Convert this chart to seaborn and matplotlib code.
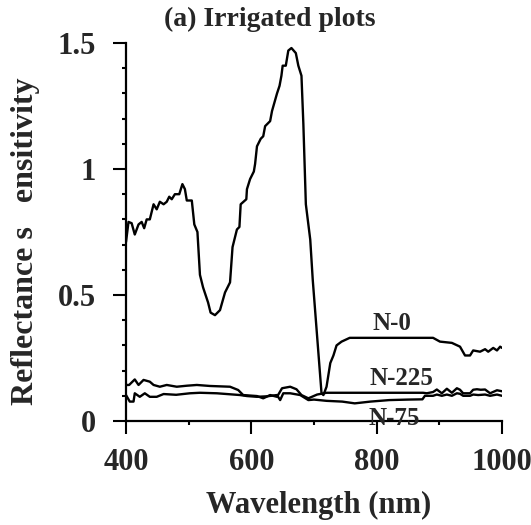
import matplotlib
matplotlib.use("Agg")
import matplotlib.pyplot as plt
import seaborn as sns
import pandas as pd
from matplotlib.ticker import MultipleLocator

# ── Data ───────────────────────────────────────────────────────────────────
n0_wl = [400, 404, 409, 414, 420, 425, 429, 433, 438, 444,
         449, 454, 460, 465, 469, 473, 478, 485, 490, 494,
         497, 505, 509, 514, 518, 523, 531, 535, 542, 550,
         558, 566, 570, 577, 581, 583, 592, 593, 598, 604,
         606, 609, 615, 619, 622, 630, 633, 641, 645, 648,
         650, 655, 659, 664, 671, 675, 680, 683, 687, 694,
         698, 712, 715, 720, 726, 731, 736, 744, 757, 890,
         901, 920, 933, 941, 949, 954, 965, 973, 978, 986,
         992, 997, 1000]
n0_val = [0.71, 0.79, 0.785, 0.74, 0.78, 0.79, 0.765, 0.80, 0.80, 0.86,
          0.84, 0.87, 0.86, 0.87, 0.89, 0.88, 0.90, 0.90, 0.94, 0.92,
          0.875, 0.875, 0.78, 0.75, 0.58, 0.53, 0.47, 0.43, 0.42, 0.44,
          0.51, 0.55, 0.69, 0.76, 0.77, 0.86, 0.88, 0.92, 0.96, 0.99,
          1.02, 1.09, 1.12, 1.13, 1.17, 1.19, 1.23, 1.30, 1.33, 1.37,
          1.41, 1.41, 1.47, 1.48, 1.46, 1.41, 1.37, 1.18, 0.86, 0.72,
          0.56, 0.11, 0.103, 0.136, 0.23, 0.26, 0.30, 0.315, 0.33, 0.33,
          0.315, 0.31, 0.295, 0.26, 0.26, 0.28, 0.275, 0.285, 0.275, 0.29,
          0.28, 0.295, 0.29]

n225_wl = [400, 405, 414, 420, 428, 438, 444, 454, 465, 481,
           497, 513, 534, 566, 579, 587, 609, 619, 630, 641,
           649, 662, 672, 680, 691, 705, 720, 760, 800, 840,
           874, 880, 890, 896, 904, 912, 920, 928, 933, 938,
           949, 954, 960, 966, 973, 981, 992, 1000]
n225_val = [0.143, 0.143, 0.165, 0.143, 0.163, 0.156, 0.143, 0.136, 0.143, 0.136,
            0.14, 0.143, 0.139, 0.136, 0.123, 0.103, 0.099, 0.09, 0.103, 0.096,
            0.13, 0.136, 0.126, 0.103, 0.09, 0.105, 0.112, 0.112, 0.112, 0.112,
            0.112, 0.11, 0.115, 0.125, 0.11, 0.128, 0.112, 0.13, 0.124, 0.11,
            0.11, 0.124, 0.126, 0.124, 0.125, 0.11, 0.122, 0.118]

n75_wl = [400, 406, 412, 414, 422, 430, 438, 449, 460, 480,
          502, 518, 545, 582, 593, 609, 625, 641, 646, 651,
          662, 678, 691, 700, 720, 745, 765, 790, 820, 850,
          873, 877, 890, 896, 904, 912, 920, 928, 933, 938,
          949, 954, 962, 973, 981, 992, 1000]
n75_val = [0.103, 0.077, 0.077, 0.11, 0.096, 0.11, 0.096, 0.096, 0.107, 0.104,
           0.11, 0.112, 0.11, 0.103, 0.099, 0.096, 0.098, 0.103, 0.083, 0.11,
           0.11, 0.103, 0.083, 0.085, 0.08, 0.077, 0.07, 0.077, 0.083, 0.085,
           0.086, 0.1, 0.1, 0.105, 0.1, 0.105, 0.1, 0.11, 0.108, 0.1,
           0.1, 0.105, 0.103, 0.105, 0.1, 0.105, 0.1]

curve_names = ["N-0", "N-225", "N-75"]
label_pos = {"N-0": (825, 0.385), "N-225": (839, 0.17), "N-75": (828, 0.01)}

x_ticks = [400, 600, 800, 1000]
y_ticks = [0, 0.5, 1, 1.5]
y_tick_labels = ["0", "0.5", "1", "1.5"]

df = pd.concat([
    pd.DataFrame({"wl": n0_wl, "val": n0_val, "curve": "N-0"}),
    pd.DataFrame({"wl": n225_wl, "val": n225_val, "curve": "N-225"}),
    pd.DataFrame({"wl": n75_wl, "val": n75_val, "curve": "N-75"}),
])

# ── Plot ───────────────────────────────────────────────────────────────────
sns.set_style("ticks")
plt.rcParams['font.family'] = ['Liberation Serif', 'DejaVu Serif']
plt.rcParams['font.weight'] = 'bold'

fig = plt.figure(figsize=(5.31, 5.25), dpi=100)
ax = fig.add_axes([126 / 531, 1 - 421 / 525, 376 / 531, 378 / 525])

for name in curve_names:
    sns.lineplot(data=df[df["curve"] == name], x="wl", y="val", sort=False,
                 color="black", linewidth=1.7, ax=ax, legend=False)
    ax.text(*label_pos[name], name, fontsize=18, fontweight='bold',
            ha='center', va='center')

ax.set_xlim(400, 1000)
ax.set_ylim(0, 1.5)
ax.set_xticks(x_ticks)
ax.set_yticks(y_ticks)
ax.set_yticklabels(y_tick_labels)
ax.xaxis.set_minor_locator(MultipleLocator(100))
ax.yaxis.set_minor_locator(MultipleLocator(0.1))

sns.despine(ax=ax)
for side in ["left", "bottom"]:
    ax.spines[side].set_linewidth(1.6)
    ax.spines[side].set_color("black")

ax.tick_params(which='major', length=9.5, width=1.5, labelsize=22,
               color='black', direction='out')
ax.tick_params(axis='x', which='major', pad=10)
ax.tick_params(axis='y', which='major', pad=12)
ax.tick_params(which='minor', length=3, width=1.5, color='black', direction='out')
for lbl in ax.get_xticklabels() + ax.get_yticklabels():
    lbl.set_fontweight('bold')

ax.set_xlabel("Wavelength (nm)", fontsize=22, fontweight='bold')
ax.set_ylabel("Reflectance s   ensitivity", fontsize=23, fontweight='bold')
ax.xaxis.set_label_coords(0.511, -0.185)
ax.yaxis.set_label_coords(-0.23, 0.476)
ax.xaxis.label.set_va('top')

fig.text(270 / 531, 1 - 19 / 525, "(a) Irrigated plots", fontsize=20,
         fontweight='bold', ha='center', va='center')

fig.savefig("out.png", dpi=100)
plt.close(fig)
